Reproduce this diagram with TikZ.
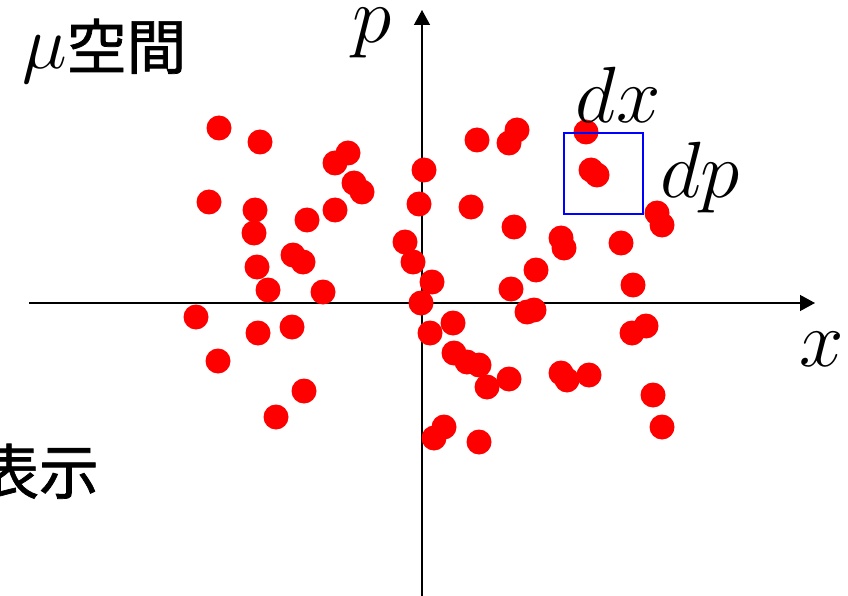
\RequirePackage{fix-cm}
\documentclass[tikz,border=0pt]{standalone}
\usepackage{fontspec}
\newfontfamily\jpfont{Noto Sans CJK JP}[FakeBold=1.2]
\usetikzlibrary{arrows.meta}

\begin{document}
\begin{tikzpicture}[x=1bp,y=-1bp,
  dot/.style={circle,fill=red,inner sep=0pt,minimum size=25bp},
  axis/.style={line width=1.3bp,-{Triangle[length=15bp,width=16bp]}},
  sym/.style={inner sep=0pt,font=\fontsize{80}{80}\selectfont},
  jp/.style={inner sep=0pt,font=\fontsize{60}{60}\selectfont\jpfont},
  cell/.style={draw=blue,line width=2.5bp,minimum width=79bp,minimum height=81bp,inner sep=0pt}]

\path[use as bounding box,clip] (0,0) rectangle (848,596);

% axes
\coordinate (xs) at (29,303);
\coordinate (xe) at (815,303);
\coordinate (ys) at (422,596);
\coordinate (ye) at (422,10);
\draw[axis] (xs) -- (xe);
\draw[axis] (ys) -- (ye);

% particles
\foreach \px/\py [count=\i] in {219/128,260/142,348/153,335/163,354/183,362/192,209/202,255/210,
  254/233,307/220,335/210,293/255,303/262,257/267,268/290,323/292,424/170,419/204,405/242,
  413/262,432/282,421/303,477/140,517/130,509/143,471/207,514/227,561/238,564/248,621/243,
  657/213,662/225,586/132,591/170,597/175,536/270,511/289,633/285,196/317,258/333,292/327,
  218/361,304/391,276/417,430/333,453/323,454/353,467/362,479/365,487/387,509/379,527/312,
  534/310,561/373,567/380,589/375,632/333,646/326,653/395,662/427,444/427,434/438,479/442}
  {\node[dot] (d\i) at (\px,\py) {};}

% phase cell
\node[cell] (cell) at (603.5,173.5) {};

\node[sym] (plab) at (372,33) {$p$};
\node[sym] (xlab) at (822,349) {$x$};
\node[sym] (dxlab) at (618,95) {$dx$};
\node[sym] (dplab) at (700,178) {$dp$};

\node[jp,anchor=base west] (mu) at (22,69) {{\fontsize{76}{76}\selectfont$\mu$}空間};
\node[jp,anchor=base east] (rep) at (99,494) {表示};

\end{tikzpicture}
\end{document}
